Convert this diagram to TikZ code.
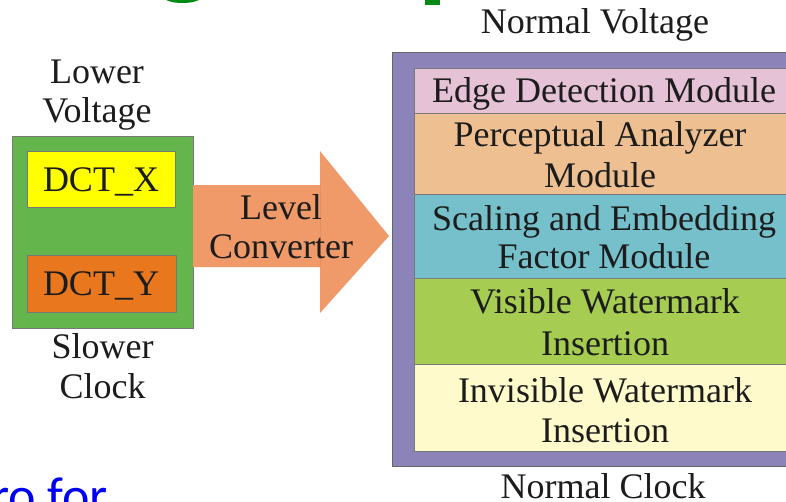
\documentclass[tikz,border=0pt]{standalone}
\usepackage{fontspec}
\setmainfont{Liberation Serif}
\newfontfamily\slidefont{Carlito}
\definecolor{txt}{RGB}{28,28,28}
\definecolor{edgec}{RGB}{120,120,120}
\definecolor{purp}{RGB}{140,131,185}
\definecolor{grn}{RGB}{100,182,76}
\definecolor{ylw}{RGB}{255,255,0}
\definecolor{org}{RGB}{232,119,30}
\definecolor{arr}{RGB}{240,154,106}
\definecolor{pinkc}{RGB}{229,194,214}
\definecolor{tanc}{RGB}{237,191,145}
\definecolor{cyanc}{RGB}{117,192,203}
\definecolor{limec}{RGB}{166,205,82}
\definecolor{creamc}{RGB}{255,250,204}
\definecolor{titleg}{RGB}{0,140,20}
\definecolor{blu}{RGB}{0,0,240}
\newcommand\tpstrut{\rule{0pt}{30pt}}
\begin{document}
\begin{tikzpicture}[x=1pt,y=-1pt,
  box/.style={draw=edgec, line width=0.8pt, inner sep=0pt, rectangle},
  lbl/.style={font=\fontsize{36}{40}\selectfont, text=txt, inner sep=0pt, align=center, anchor=north}]
\useasboundingbox (0,0) rectangle (786,501);
\clip (0,0) rectangle (786,501);
\fill[white] (0,0) rectangle (786,501);
% fragments of the slide around the picture
\fill[titleg] (165,-2) arc[start angle=180, end angle=360, x radius=17.5pt, y radius=5pt] -- cycle;
\fill[titleg] (425,-2) rectangle (440,5);
\node (frag) [font=\slidefont\fontsize{52}{60}\selectfont, text=blu, inner sep=0pt, anchor=base east] at (108,513) {ro for};
% left block
\node (green) [box, fill=grn, minimum width=181pt, minimum height=192pt] at (102.5,232) {};
\node (dx) [box, fill=ylw, minimum width=148pt, minimum height=56pt] at (101,179) {};
\node (dy) [box, fill=org, minimum width=149pt, minimum height=57pt] at (101.5,283.5) {};
% right block
\node (purple) [box, draw=black!60, fill=purp, minimum width=424pt, minimum height=414pt] at (604,259) {};
\node (m1) [box, fill=pinkc, minimum width=380pt, minimum height=45pt] at (604,90.5) {};
\node (m2) [box, fill=tanc, minimum width=380pt, minimum height=81pt] at (604,153.5) {};
\node (m3) [box, fill=cyanc, minimum width=380pt, minimum height=84pt] at (604,236) {};
\node (m4) [box, fill=limec, minimum width=380pt, minimum height=86pt] at (604,321) {};
\node (m5) [box, fill=creamc, minimum width=380pt, minimum height=87pt] at (604,407.5) {};
% block arrow
\coordinate (a1) at (193,185);
\coordinate (a2) at (320,185);
\coordinate (a3) at (320,151);
\coordinate (tip) at (389,236);
\coordinate (a5) at (320,313);
\coordinate (a6) at (320,267);
\coordinate (a7) at (193,267);
\fill[arr] (a1) -- (a2) -- (a3) -- (tip) -- (a5) -- (a6) -- (a7) -- cycle;
\draw[arr!85!black, line width=0.6pt, opacity=0.35] (a2) -- (a6);
% labels
\node (nv) [lbl] at (595,3) {\tpstrut Normal Voltage};
\node (lv) [lbl] at (97,53) {\tpstrut Lower\\[-1pt]Voltage};
\node (tdx) [lbl] at (101,161) {\tpstrut DCT\_X};
\node (tdy) [lbl] at (101,265) {\tpstrut DCT\_Y};
\node (sc) [lbl] at (102.5,328) {\tpstrut Slower\\Clock};
\node (lc) [lbl] at (281,189) {\tpstrut Level\\[-1pt]Converter};
\node (t1) [lbl] at (604,72) {\tpstrut Edge Detection Module};
\node (t2) [lbl] at (600,116) {\tpstrut Perceptual Analyzer\\[1pt]Module};
\node (t3) [lbl] at (604,200) {\tpstrut Scaling and Embedding\\[-2pt]Factor Module};
\node (t4) [lbl] at (605,283) {\tpstrut Visible Watermark\\[2pt]Insertion};
\node (t5) [lbl] at (605,372) {\tpstrut Invisible Watermark\\Insertion};
\node (nc) [lbl] at (603,468) {\tpstrut Normal Clock};
\end{tikzpicture}
\end{document}
